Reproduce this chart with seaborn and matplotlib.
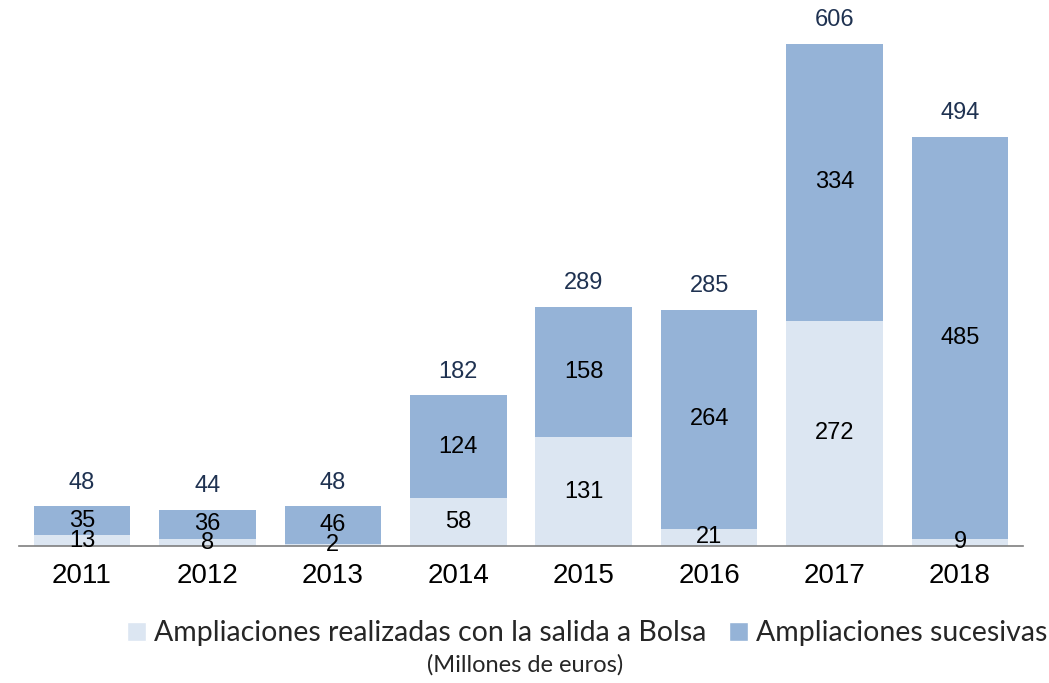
import matplotlib
matplotlib.use("Agg")
import matplotlib.pyplot as plt
import seaborn as sns
import pandas as pd
from matplotlib.patches import Patch

years = ["2011", "2012", "2013", "2014", "2015", "2016", "2017", "2018"]
salida_bolsa = [13, 8, 2, 58, 131, 21, 272, 9]
sucesivas = [35, 36, 46, 124, 158, 264, 334, 485]
totales = [48, 44, 48, 182, 289, 285, 606, 494]

label_bolsa = "Ampliaciones realizadas con la salida a Bolsa"
label_suces = "Ampliaciones sucesivas"
subtitle = "(Millones de euros)"

c_light = "#DCE6F2"
c_dark = "#95B3D7"
c_total = "#1F3251"

sns.set_theme(style="white")
plt.rcParams["font.family"] = ["Liberation Sans", "DejaVu Sans"]

df = pd.DataFrame({"year": years, "bolsa": salida_bolsa,
                   "suces": sucesivas, "total": totales})
df["stack_top"] = df["bolsa"] + df["suces"]

fig = plt.figure(figsize=(10.49, 6.83), dpi=100)
ax = fig.add_axes([0.0184, 0.2006, 0.9566, 0.7994])

# stacked bars: full stack in the darker colour, base segment drawn over it
sns.barplot(data=df, x="year", y="stack_top", color=c_dark, saturation=1,
            width=0.77, linewidth=0, ax=ax)
sns.barplot(data=df, x="year", y="bolsa", color=c_light, saturation=1,
            width=0.77, linewidth=0, ax=ax)

ax.set_xlim(-0.5, len(years) - 0.5)
ax.set_ylim(0, 659)
ax.set_xlabel("")
ax.set_ylabel("")
ax.set_yticks([])
for s in ["top", "left", "right"]:
    ax.spines[s].set_visible(False)
ax.spines["bottom"].set_color("#7F7F7F")
ax.spines["bottom"].set_linewidth(1.2)
ax.tick_params(axis="x", length=0, pad=12, labelsize=20, labelcolor="black")

for i, row in df.iterrows():
    ax.text(i, row["bolsa"] / 2, str(row["bolsa"]), ha="center", va="center",
            fontsize=17, color="black")
    ax.text(i, row["bolsa"] + row["suces"] / 2, str(row["suces"]),
            ha="center", va="center", fontsize=17, color="black")
    ax.annotate(str(row["total"]), (i, row["stack_top"]), xytext=(0, 17),
                textcoords="offset points", ha="center", va="center",
                fontsize=17, color=c_total)

handles = [Patch(facecolor=c_light, label=label_bolsa),
           Patch(facecolor=c_dark, label=label_suces)]
fig.legend(handles=handles, loc="center", bbox_to_anchor=(0.56, 0.073),
           ncol=2, frameon=False, handlelength=0.65,
           handleheight=0.65, handletextpad=0.3, columnspacing=0.8,
           prop={"family": ["Lato", "DejaVu Sans"], "size": 20.5})
fig.text(0.501, 0.026, subtitle, ha="center", va="center", fontsize=17,
         family=["Lato", "DejaVu Sans"])

fig.savefig("out.png", dpi=100)
